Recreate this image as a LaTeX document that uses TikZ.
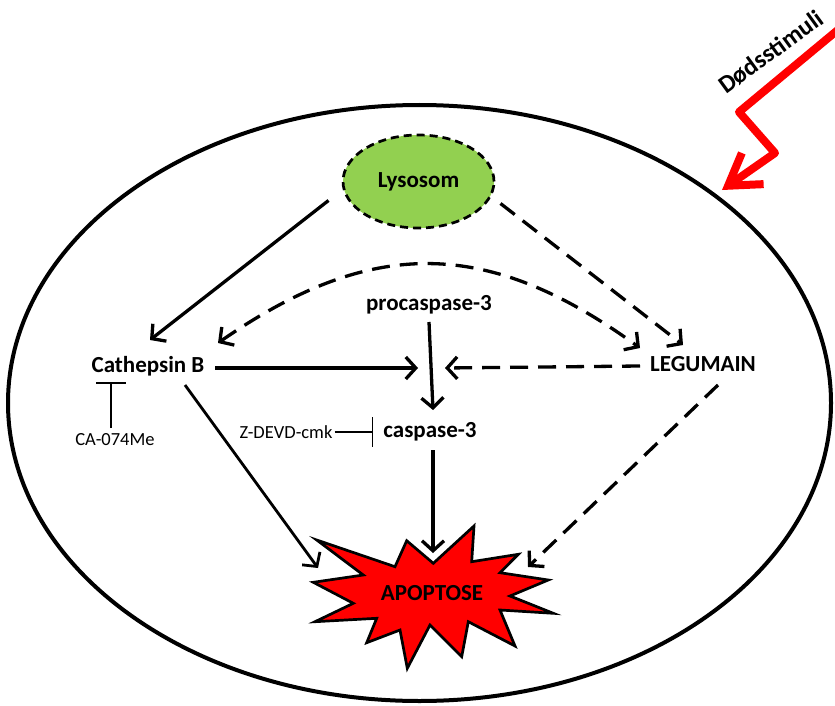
\documentclass[tikz,border=0pt]{standalone}
\usepackage{fontspec}
\setmainfont{Carlito}
\usepackage{tikz}
\usetikzlibrary{shapes.geometric,arrows.meta,calc}
\definecolor{lysogreen}{HTML}{92D050}
\tikzstyle{arrow} = [line width=3.3pt,->,>={Straight Barb[length=10pt,width=22pt]}]
\tikzstyle{dasharrow} = [arrow,dash pattern=on 18pt off 10pt]
\tikzstyle{block} = [line width=1.5pt,-{Bar[width=30pt]}]
\tikzstyle{lbl} = [font=\bfseries\fontsize{23}{27}\selectfont,inner sep=0pt]
\tikzstyle{inhlabel} = [font=\fontsize{18.5}{22}\selectfont,inner sep=0pt]
\tikzstyle{lyso} = [ellipse,draw,fill=lysogreen,line width=2.7pt,dash pattern=on 8pt off 5pt,minimum width=151pt,minimum height=93pt,inner sep=0pt]
\tikzstyle{burst} = [draw,fill=red,line width=2.7pt,line join=miter]
\tikzstyle{bolt} = [red,line width=8pt,line join=round,line cap=round,-{Straight Barb[length=30pt,width=38pt]}]

\begin{document}
\begin{tikzpicture}[x=1pt,y=-1pt]
    \useasboundingbox (0,0) rectangle (835,706);
    % cell
    \draw[line width=4pt] (419.5,403) ellipse [x radius=411.5, y radius=298];
    % apoptosis burst
    \draw[burst] (406.7,540.7) -- (433.3,563.3) -- (474,526) -- (471.7,561.7)
        -- (518.3,554.3) -- (500,572.7) -- (548.3,580) -- (510,596)
        -- (553.3,613.3) -- (500,610) -- (515,646) -- (468.3,621.7)
        -- (461.7,656.7) -- (430,625) -- (407.3,668.3) -- (400,630)
        -- (366.7,642.7) -- (376.7,618.3) -- (315,621.7) -- (353.3,603.3)
        -- (313.3,582.3) -- (363.3,575) -- (316.7,540) -- (395,566.7) -- cycle;

    \node[lyso] (lyso) at (418.5,181.5) {};
    \node[lbl] at (lyso) {Lysosom};
    \node[lbl] (proc) at (429,305) {procaspase-3};
    \node[lbl] (cathb) at (148,366) {Cathepsin B};
    \node[lbl] (legu) at (703,364) {LEGUMAIN};
    \node[lbl] (casp) at (430,432) {caspase-3};
    \node[inhlabel] (ca074) at (115,440) {CA-074Me};
    \node[inhlabel] (zdevd) at (286,432) {Z-DEVD-cmk};
    \node[lbl] (apop) at (432,593) {APOPTOSE};

    \draw[arrow] ($(lyso)+(-90,19)$) -- ($(cathb)+(2,-26)$);
    \draw[dasharrow] ($(lyso)+(82,22)$) -- ($(legu)+(-20,-19)$);
    \draw[dasharrow,<->] ($(cathb)+(70,-23)$) .. controls (371,237) and (487,237) .. ($(legu)+(-63,-16)$);
    \draw[arrow] ($(cathb)+(67,2)$) -- ($(casp)+(-12,-64)$);
    \draw[dasharrow] ($(legu)+(-63,2)$) -- ($(casp)+(15,-64)$);
    \draw[arrow] ($(proc)+(0,17)$) -- ($(casp)+(3,-22)$);
    \draw[arrow] ($(casp)+(3,18)$) -- ($(apop)+(1,-40)$);
    \draw[arrow,line width=2.8pt] ($(cathb)+(37,19)$) -- ($(apop)+(-114,-25)$);
    \draw[dasharrow] ($(legu)+(15,21)$) -- ($(apop)+(96,-26)$);
    % inhibitors
    \draw[block] ($(ca074)+(-4,-12)$) -- ($(cathb)+(-37,16)$);
    \draw[block] ($(zdevd.east)+(2,0)$) -- ($(casp)+(-57,0)$);

    % death stimulus
    \draw[bolt] (845,24) -- (739,112) -- (775,153) -- (722,190);
    \node[font=\bfseries\fontsize{25}{30}\selectfont,rotate=36] (stim) at (771,52) {Dødsstimuli};
\end{tikzpicture}
\end{document}
